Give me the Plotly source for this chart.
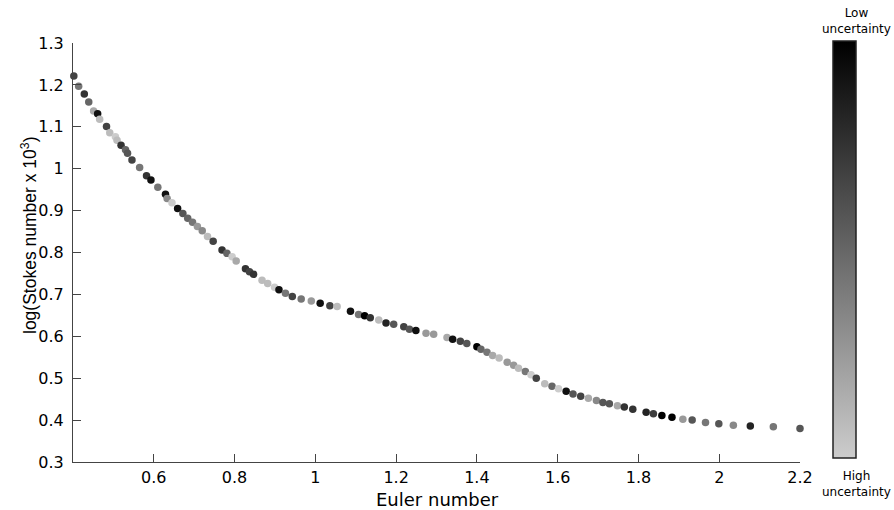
import plotly.graph_objects as go

# Euler number (x), log(Stokes number x 10^3) (y), certainty (1 = low uncertainty / black)
euler = [0.402, 0.414, 0.428, 0.439, 0.451, 0.461, 0.466, 0.483, 0.491, 0.505,
         0.509, 0.519, 0.530, 0.535, 0.546, 0.565, 0.582, 0.593, 0.610, 0.629,
         0.633, 0.645, 0.659, 0.672, 0.684, 0.696, 0.708,
         0.720, 0.733, 0.747, 0.769, 0.781, 0.794, 0.804, 0.827, 0.837, 0.847,
         0.868, 0.882, 0.899, 0.910, 0.926, 0.943, 0.965, 0.990, 1.012, 1.036,
         1.054, 1.087, 1.107, 1.122, 1.136, 1.157, 1.175, 1.194, 1.219, 1.233,
         1.249, 1.274, 1.293, 1.326,
         1.340, 1.359, 1.375, 1.400, 1.410, 1.425, 1.439, 1.455, 1.475, 1.491,
         1.503, 1.520, 1.534, 1.547, 1.568, 1.586, 1.602, 1.621, 1.638, 1.657,
         1.676, 1.696, 1.712, 1.728, 1.748, 1.765, 1.786, 1.819, 1.837, 1.858,
         1.883, 1.910, 1.933, 1.966, 1.999, 2.035, 2.077, 2.134, 2.200]

log_stokes = [1.221, 1.197, 1.178, 1.159, 1.138, 1.131, 1.118, 1.101, 1.086, 1.076,
              1.068, 1.056, 1.045, 1.037, 1.021, 1.003, 0.983, 0.973, 0.956, 0.939,
              0.929, 0.919, 0.905, 0.893, 0.882, 0.872, 0.862,
              0.852, 0.838, 0.827, 0.806, 0.798, 0.790, 0.780, 0.761, 0.754, 0.748,
              0.734, 0.726, 0.717, 0.711, 0.703, 0.695, 0.689, 0.684, 0.679, 0.673,
              0.671, 0.660, 0.652, 0.649, 0.644, 0.639, 0.632, 0.629, 0.623, 0.617,
              0.614, 0.607, 0.605, 0.597,
              0.593, 0.588, 0.583, 0.575, 0.569, 0.562, 0.554, 0.548, 0.538, 0.531,
              0.524, 0.516, 0.508, 0.500, 0.487, 0.481, 0.475, 0.469, 0.462, 0.457,
              0.452, 0.447, 0.442, 0.439, 0.434, 0.431, 0.426, 0.419, 0.415, 0.411,
              0.407, 0.402, 0.400, 0.394, 0.391, 0.388, 0.386, 0.384, 0.380]

certainty = [0.67, 0.42, 0.75, 0.50, 0.17, 0.92, 0.08, 0.67, 0.08, 0.00,
             0.08, 0.75, 0.50, 0.58, 0.67, 0.42, 0.75, 0.92, 0.42, 0.92,
             0.33, 0.00, 0.92, 0.58, 0.50, 0.42, 0.25,
             0.33, 0.08, 0.67, 0.75, 0.50, 0.00, 0.17, 0.75, 0.67, 0.75,
             0.08, 0.08, 0.00, 0.92, 0.42, 0.67, 0.42, 0.25, 0.92, 0.67,
             0.08, 0.92, 0.42, 1.00, 0.75, 0.08, 0.83, 0.58, 0.67, 0.58,
             0.92, 0.25, 0.25, 0.17,
             0.92, 0.67, 0.58, 1.00, 0.50, 0.42, 0.17, 0.08, 0.25, 0.25,
             0.08, 0.42, 0.00, 0.67, 0.08, 0.50, 0.00, 0.92, 0.58, 0.67,
             0.17, 0.33, 0.58, 0.58, 0.17, 0.75, 0.75, 0.83, 0.70, 1.00,
             1.00, 0.25, 0.58, 0.42, 0.58, 0.33, 0.83, 0.42, 0.58]

x_ticks = [0.6, 0.8, 1.0, 1.2, 1.4, 1.6, 1.8, 2.0, 2.2]
x_ticktext = ["0.6", "0.8", "1", "1.2", "1.4", "1.6", "1.8", "2", "2.2"]
y_ticks = [0.3, 0.4, 0.5, 0.6, 0.7, 0.8, 0.9, 1.0, 1.1, 1.2, 1.3]
y_ticktext = ["0.3", "0.4", "0.5", "0.6", "0.7", "0.8", "0.9", "1", "1.1", "1.2", "1.3"]

W, H = 894, 510
PX_L, PX_R, PX_T, PX_B = 73, 800, 43, 462      # plot area in pixels
L, T = PX_L, PX_T
R, B = W - PX_R, H - PX_B
pw, ph = PX_R - PX_L, PX_B - PX_T

def px_x(p):
    return (p - PX_L) / pw

def px_y(p):
    return (PX_B - p) / ph

SANS = "Liberation Sans, Arial, sans-serif"
WIDE = "DejaVu Sans, Liberation Sans, sans-serif"

fig = go.Figure()
fig.add_trace(go.Scatter(
    x=euler, y=log_stokes, mode="markers", cliponaxis=False,
    marker=dict(
        size=7.5, color=certainty, cmin=0, cmax=1,
        colorscale=[[0, "#cccccc"], [1, "#000000"]],
        line=dict(width=0),
        colorbar=dict(
            x=px_x(833), xanchor="left", xpad=0, ypad=0,
            y=px_y((41 + 458) / 2), yanchor="middle",
            len=417, lenmode="pixels", thickness=23, thicknessmode="pixels",
            outlinewidth=1.5, outlinecolor="#222222",
            showticklabels=False, ticks="",
        ),
    ),
    showlegend=False,
))

fig.update_layout(
    width=W, height=H,
    margin=dict(l=L, r=R, t=T, b=B),
    paper_bgcolor="white", plot_bgcolor="white",
    font=dict(family=WIDE, size=16, color="#000000"),
    xaxis=dict(
        range=[0.4, 2.2], tickvals=x_ticks, ticktext=x_ticktext,
        showgrid=False, zeroline=False, showline=True, linecolor="#444444", linewidth=1,
        ticks="inside", ticklen=8, tickcolor="#444444",
        tickfont=dict(size=16, family=WIDE), ticklabelstandoff=1,
    ),
    yaxis=dict(
        range=[0.3, 1.3], tickvals=y_ticks, ticktext=y_ticktext,
        showgrid=False, zeroline=False, showline=True, linecolor="#444444", linewidth=1,
        ticks="inside", ticklen=8, tickcolor="#444444",
        tickfont=dict(size=16, family=WIDE), ticklabelstandoff=5,
    ),
    annotations=[
        dict(text="Euler number", x=px_x(437), y=px_y(499), xref="paper", yref="paper",
             showarrow=False, xanchor="center", yanchor="middle",
             font=dict(size=18, family=WIDE)),
        dict(text="log(Stokes number x 10<sup>3</sup>)", textangle=-90,
             x=px_x(29), y=px_y(236), xref="paper", yref="paper",
             showarrow=False, xanchor="center", yanchor="middle",
             font=dict(size=17.5, family=SANS)),
        dict(text="Low<br>uncertainty", x=px_x(856), y=px_y(21), xref="paper", yref="paper",
             showarrow=False, xanchor="center", yanchor="middle",
             font=dict(size=12, family=WIDE)),
        dict(text="High<br>uncertainty", x=px_x(856), y=px_y(484), xref="paper", yref="paper",
             showarrow=False, xanchor="center", yanchor="middle",
             font=dict(size=12, family=WIDE)),
    ],
)

fig.write_html(
    "out.html",
    config={"displayModeBar": False},
    post_script="document.body.style.margin='0';document.documentElement.style.overflow='hidden';",
)
